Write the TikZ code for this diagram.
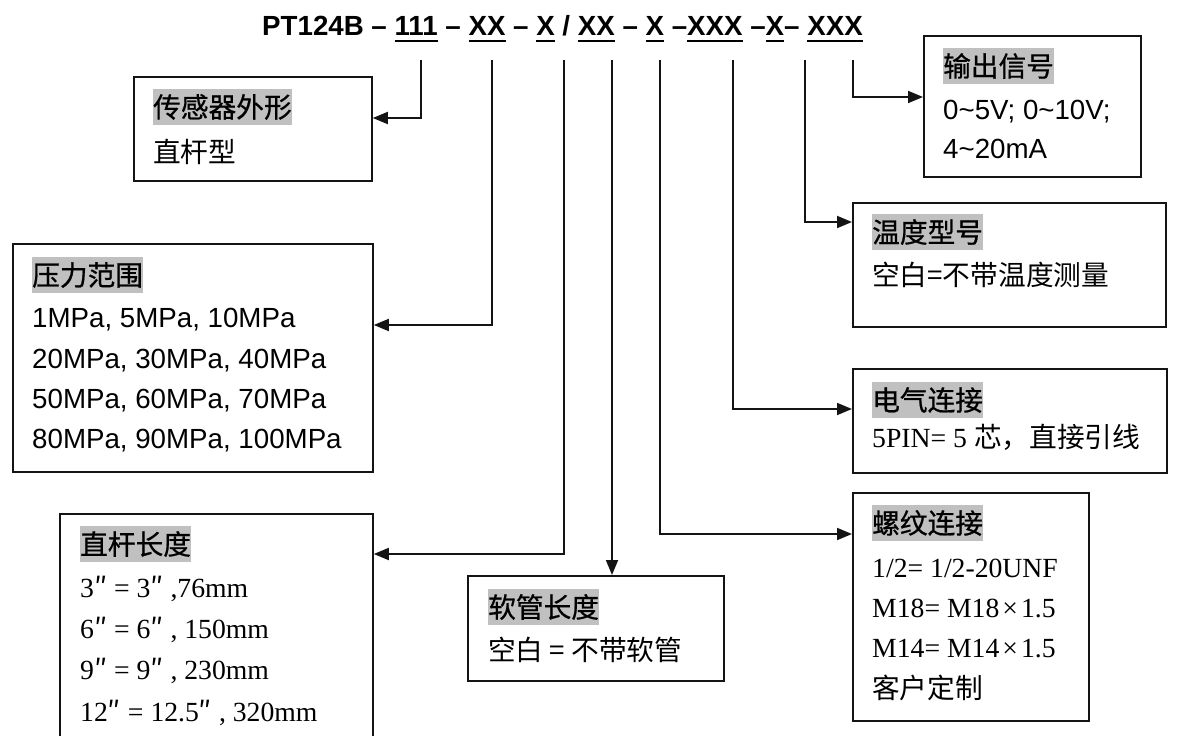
\documentclass[tikz,border=0pt]{standalone}
\usepackage{fontspec}
\setmainfont{Liberation Serif}
\newfontfamily\arial{Liberation Sans}
\newfontfamily\cjk{Noto Sans CJK SC}
\newfontfamily\cjkh{Noto Sans CJK SC}[FakeBold=0.7]
\usetikzlibrary{arrows.meta}
\definecolor{hl}{RGB}{192,192,192}
\definecolor{ln}{RGB}{20,20,20}
\newcommand\fs{\fontsize{27.7pt}{33pt}\selectfont}
\newcommand\ulx[1]{\setbox0\hbox{#1}\rlap{\vrule width\wd0 height -4.5pt depth 6.6pt}\box0\relax}
\newcommand\dprime{{\cjk ″}}
\begin{document}
\begin{tikzpicture}[x=1pt,y=-1pt,
  box/.style={draw=ln, line width=1.8pt, inner sep=0pt, anchor=north west},
  conn/.style={draw=ln, line width=1.8pt, -{Triangle[length=15pt,width=12pt]}},
  hd/.style={anchor=west, fill=hl, inner sep=0pt, minimum height=36pt, font=\fs\cjkh},
  tx/.style={anchor=base west, inner sep=0pt, font=\fs},
]
\useasboundingbox[fill=white] (0,0) rectangle (1179,736);
% title
\node[anchor=base west, inner sep=0pt, font=\fs\arial\bfseries] (title) at (262,35)
  {PT124B – \ulx{111} – \ulx{XX} – \ulx{X} / \ulx{XX} – \ulx{X} –\ulx{XXX} –\ulx{X}– \ulx{XXX}};
% boxes
\node[box, minimum width=238pt, minimum height=104pt] (b1) at (133,76) {};
\node[box, minimum width=360pt, minimum height=228pt] (b2) at (12,243) {};
\node[box, minimum width=313pt, minimum height=260pt] (b3) at (59,513) {};
\node[box, minimum width=256pt, minimum height=105pt] (b4) at (467,575) {};
\node[box, minimum width=236pt, minimum height=228pt] (b5) at (852,492) {};
\node[box, minimum width=314pt, minimum height=104pt] (b6) at (852,368) {};
\node[box, minimum width=313pt, minimum height=124pt] (b7) at (852,202) {};
\node[box, minimum width=217pt, minimum height=141pt] (b8) at (923,35) {};
% box 1
\node[hd] (h1) at (153,107) {传感器外形};
\node[tx, font=\fs\cjk] (t11) at (153,162) {直杆型};
% box 2
\node[hd] (h2) at (32,275) {压力范围};
\node[tx, font=\fs\arial] (t21) at (32,327) {1MPa, 5MPa, 10MPa};
\node[tx, font=\fs\arial] (t22) at (32,368) {20MPa, 30MPa, 40MPa};
\node[tx, font=\fs\arial] (t23) at (32,408) {50MPa, 60MPa, 70MPa};
\node[tx, font=\fs\arial] (t24) at (32,448) {80MPa, 90MPa, 100MPa};
% box 3
\node[hd] (h3) at (80,544) {直杆长度};
\node[tx] (t31) at (80,597) {3\dprime\ = 3\dprime\ ,76mm};
\node[tx] (t32) at (80,638) {6\dprime\ = 6\dprime\ , 150mm};
\node[tx] (t33) at (80,679) {9\dprime\ = 9\dprime\ , 230mm};
\node[tx] (t34) at (80,721) {12\dprime\ = 12.5\dprime\ , 320mm};
% box 4
\node[hd] (h4) at (488,607) {软管长度};
\node[tx, font=\fs\cjk] (t41) at (488,660) {空白 = 不带软管};
% box 5
\node[hd] (h5) at (872,523) {螺纹连接};
\node[tx] (t51) at (872,577) {1/2= 1/2-20UNF};
\node[tx] (t52) at (872,617) {M18= M18\kern3pt×\kern3pt1.5};
\node[tx] (t53) at (872,657) {M14= M14\kern3pt×\kern3pt1.5};
\node[tx, font=\fs\cjk] (t54) at (872,698) {客户定制};
% box 6
\node[hd] (h6) at (872,400) {电气连接};
\node[tx] (t61) at (872,447) {5PIN= 5 {\cjk 芯，直接引线}};
% box 7
\node[hd] (h7) at (872,232) {温度型号};
\node[tx, font=\fs\cjk] (t71) at (872,285) {空白=不带温度测量};
% box 8
\node[hd] (h8) at (943,66) {输出信号};
\node[tx, font=\fs\arial] (t81) at (943,119) {0\textasciitilde 5V; 0\textasciitilde 10V;};
\node[tx, font=\fs\arial] (t82) at (943,158) {4\textasciitilde 20mA};
% connector start points
\coordinate (c1) at (421,60);
\coordinate (c2) at (492,60);
\coordinate (c3) at (564,60);
\coordinate (c4) at (612,60);
\coordinate (c5) at (660,60);
\coordinate (c6) at (733,60);
\coordinate (c7) at (805,60);
\coordinate (c8) at (853,60);
% bend points
\coordinate (k1) at (421,118);
\coordinate (k2) at (492,325);
\coordinate (k3) at (564,554);
\coordinate (k5) at (660,534);
\coordinate (k6) at (733,409);
\coordinate (k7) at (805,222);
\coordinate (k8) at (853,97);
% connectors
\draw[conn] (c1) -- (k1) -- (b1.east |- k1);
\draw[conn] (c2) -- (k2) -- (b2.east |- k2);
\draw[conn] (c3) -- (k3) -- (b3.east |- k3);
\draw[conn] (c4) -- (c4 |- b4.north);
\draw[conn] (c5) -- (k5) -- (b5.west |- k5);
\draw[conn] (c6) -- (k6) -- (b6.west |- k6);
\draw[conn] (c7) -- (k7) -- (b7.west |- k7);
\draw[conn] (c8) -- (k8) -- (b8.west |- k8);
\end{tikzpicture}
\end{document}
